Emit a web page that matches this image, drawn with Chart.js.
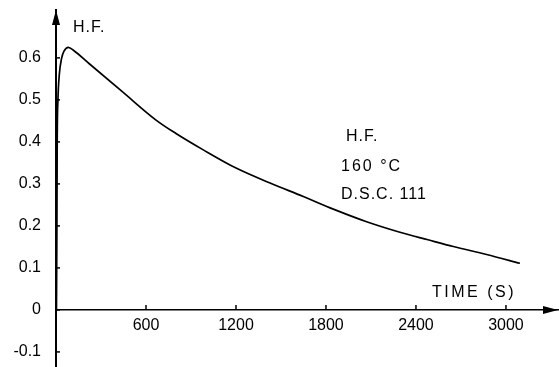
<html>
<head>
<meta charset="utf-8">
<title>H.F. curve</title>
<script src="https://cdn.jsdelivr.net/npm/chart.js@4/dist/chart.umd.min.js"></script>
<style>
    html, body { margin: 0; padding: 0; background: #fff; }
    .container { width: 559px; height: 367px; }
</style>
</head>
<body>
<div class="container">
    <canvas id="myChart"></canvas>
</div>
<script>
    // heat flow curve (time in s, H.F. in arbitrary units)
    let aTime = [3, 6, 8, 13, 22, 38, 55, 82, 120, 222, 444, 667, 800, 982, 1204, 1427, 1649, 1849, 2071, 2293, 2480, 2649, 2871, 3093];
    let aHF   = [0.0, 0.2, 0.4, 0.5, 0.56, 0.6, 0.617, 0.625, 0.617, 0.586, 0.519, 0.452, 0.42, 0.381, 0.337, 0.302, 0.27, 0.24, 0.21, 0.185, 0.167, 0.151, 0.132, 0.111];

    let aXTicks = [600, 1200, 1800, 2400, 3000];
    let aYTicks = [-0.1, 0, 0.1, 0.2, 0.3, 0.4, 0.5, 0.6];
    let aYLabels = ['-0.1', '0', '0.1', '0.2', '0.3', '0.4', '0.5', '0.6'];

    let sFont = '"Liberation Sans", Arial, sans-serif';

    // arrows, inward tick marks and the loose texts
    let axisExtras = {
        id: 'axisExtras',
        afterDraw: function(chart) {
            let ctx = chart.ctx;
            let xs = chart.scales.x;
            let ys = chart.scales.y;
            let x0 = xs.getPixelForValue(0);
            let y0 = ys.getPixelForValue(0);
            let top = chart.chartArea.top;
            let right = chart.chartArea.right;

            ctx.save();
            ctx.strokeStyle = '#000';
            ctx.fillStyle = '#000';
            ctx.lineWidth = 1.5;

            aYTicks.forEach(function(v) {
                let py = ys.getPixelForValue(v);
                ctx.beginPath();
                ctx.moveTo(x0, py);
                ctx.lineTo(x0 + 4, py);
                ctx.stroke();
            });
            aXTicks.forEach(function(v) {
                let px = xs.getPixelForValue(v);
                ctx.beginPath();
                ctx.moveTo(px, y0);
                ctx.lineTo(px, y0 - 5);
                ctx.stroke();
            });

            // y arrow
            ctx.beginPath();
            ctx.moveTo(x0, top);
            ctx.lineTo(x0 - 4, top + 15);
            ctx.lineTo(x0 + 4, top + 15);
            ctx.closePath();
            ctx.fill();
            // x arrow
            ctx.beginPath();
            ctx.moveTo(right, y0);
            ctx.lineTo(right - 15, y0 - 4);
            ctx.lineTo(right - 15, y0 + 4);
            ctx.closePath();
            ctx.fill();

            ctx.font = '16px ' + sFont;
            ctx.textBaseline = 'middle';
            ctx.textAlign = 'left';
            ctx.letterSpacing = '1px';
            ctx.fillText('H.F.', 73, 28);
            ctx.fillText('H.F.', 346, 137);
            ctx.fillText('D.S.C. 111', 341, 195);
            ctx.letterSpacing = '2px';
            ctx.fillText('160 °C', 341, 167);
            ctx.letterSpacing = '2.5px';
            ctx.fillText('TIME (S)', 432, 293);
            ctx.restore();
        }
    };

    let ctx = document.getElementById('myChart').getContext('2d');
    let myChart = new Chart(ctx, {
        type: 'scatter',
        data: {
            datasets: [{
                label: 'H.F.',
                data: aTime.map(function(t, i) { return { x: t, y: aHF[i] }; }),
                showLine: true,
                borderColor: '#000',
                borderWidth: 1.7,
                pointRadius: 0,
                cubicInterpolationMode: 'monotone',
                fill: false
            }]
        },
        options: {
            responsive: true,
            maintainAspectRatio: false,
            animation: false,
            layout: { padding: { top: 10, right: 1, bottom: 0, left: 0 } },
            plugins: {
                legend: { display: false },
                tooltip: { enabled: false }
            },
            scales: {
                x: {
                    type: 'linear',
                    position: { y: 0 },
                    min: 0,
                    max: 3347,
                    afterFit: function(scale) { scale.height = 0; },
                    afterBuildTicks: function(scale) {
                        scale.ticks = aXTicks.map(function(v) { return { value: v }; });
                    },
                    grid: { display: false, drawTicks: false },
                    border: { display: true, color: '#000', width: 1.5 },
                    ticks: {
                        color: '#000',
                        padding: 6,
                        maxRotation: 0,
                        font: { family: sFont, size: 16 },
                        callback: function(v) { return String(v); }
                    }
                },
                y: {
                    type: 'linear',
                    position: 'left',
                    min: -0.1357,
                    max: 0.714,
                    afterFit: function(scale) { scale.width = 56; },
                    afterBuildTicks: function(scale) {
                        scale.ticks = aYTicks.map(function(v) { return { value: v }; });
                    },
                    grid: { display: false, drawTicks: true, tickLength: 15 },
                    border: { display: true, color: '#000', width: 2 },
                    ticks: {
                        color: '#000',
                        padding: 0,
                        font: { family: sFont, size: 16, lineHeight: 0.01 },
                        callback: function(v, i) { return aYLabels[i]; }
                    }
                }
            }
        },
        plugins: [axisExtras]
    });
</script>
</body>
</html>
